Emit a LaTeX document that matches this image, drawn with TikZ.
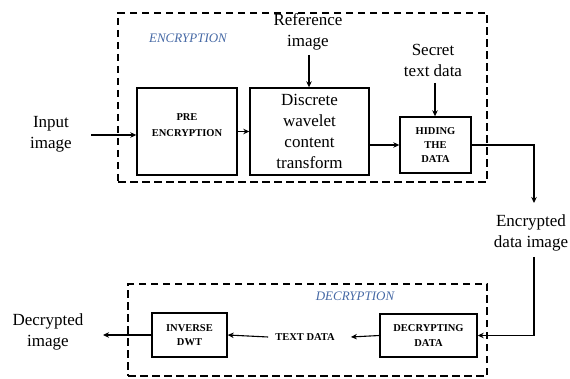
\documentclass[tikz,border=0pt]{standalone}
\usepackage{fontspec}
\setmainfont{Liberation Serif}
\usetikzlibrary{arrows.meta}
\definecolor{labblue}{RGB}{70,105,165}
\begin{document}
\begin{tikzpicture}[x=1pt,y=-1pt,
  dashbox/.style={draw, line width=2.3pt, dash pattern=on 7.5pt off 4.5pt, line join=miter, inner sep=0pt},
  blk/.style={draw, line width=1.4pt, inner sep=0pt},
  big/.style={font=\fontsize{17}{21}\selectfont, align=center, inner sep=0pt},
  sm/.style={font=\fontsize{10.5}{14}\selectfont\bfseries, align=center, inner sep=0pt},
  lab/.style={font=\fontsize{13}{15}\selectfont\itshape, text=labblue, inner sep=0pt},
  arr/.style={line width=1.1pt, -{Stealth[length=6pt,width=5.5pt]}}]
\useasboundingbox (0,0) rectangle (570,379);
% encryption part
\node[dashbox, minimum width=369pt, minimum height=169pt] (encbox) at (302.5,97.5) {};
\node[lab] (enclab) at (188,38) {ENCRYPTION};
\node[blk, minimum width=100pt, minimum height=87pt] (pre) at (187,131.5) {};
\node[sm, font=\fontsize{10.5}{16}\selectfont\bfseries] (pretxt) at (187,125) {PRE\\ENCRYPTION};
\node[blk, big, minimum width=119pt, minimum height=87pt] (dwt) at (309.5,131.5) {Discrete\\wavelet\\content\\transform};
\node[blk, sm, minimum width=71pt, minimum height=56pt] (hide) at (435.5,145) {HIDING\\THE\\DATA};
\node[big] (ref) at (308,31.5) {Reference\\image};
\node[big] (sec) at (433,60.5) {Secret\\text data};
\node[big] (inp) at (51,134) {Input\\image};
\node[big] (enc) at (531,233) {Encrypted\\data image};
% decryption part
\node[dashbox, minimum width=359pt, minimum height=92pt] (decbox) at (307.5,330) {};
\node[lab] (declab) at (355,296) {DECRYPTION};
\node[blk, sm, font=\fontsize{10.5}{15}\selectfont\bfseries, minimum width=97pt, minimum height=43pt] (dec) at (428.5,335.5) {DECRYPTING\\DATA};
\node[sm] (td) at (305,337) {TEXT DATA};
\node[blk, sm, minimum width=75pt, minimum height=44pt] (inv) at (189.5,335) {INVERSE\\DWT};
\node[big] (decimg) at (48,332) {Decrypted\\image};
% free ends
\coordinate (refa) at (309,55);
\coordinate (seca) at (435,83);
\coordinate (inpa) at (91,135);
\coordinate (enca) at (534,203);
\coordinate (encb) at (534,257);
\coordinate (deca) at (103,335);
% connectors
\draw[arr] (refa) -- (refa |- dwt.north);
\draw[arr] (seca) -- (seca |- hide.north);
\draw[arr] (inpa) -- (inpa -| pre.west);
\draw[arr] (pre.east) -- (dwt.west);
\draw[arr] (hide.west -| dwt.east) -- (hide.west);
\draw[arr] (hide.east) -| (enca);
\draw[arr] (encb) |- (dec.east);
\draw[arr] (dec.west) -- ([xshift=16pt]td.east);
\draw[arr] ([xshift=-7pt]td.west) -- (inv.east);
\draw[arr] (inv.west) -- (deca);
\end{tikzpicture}
\end{document}
